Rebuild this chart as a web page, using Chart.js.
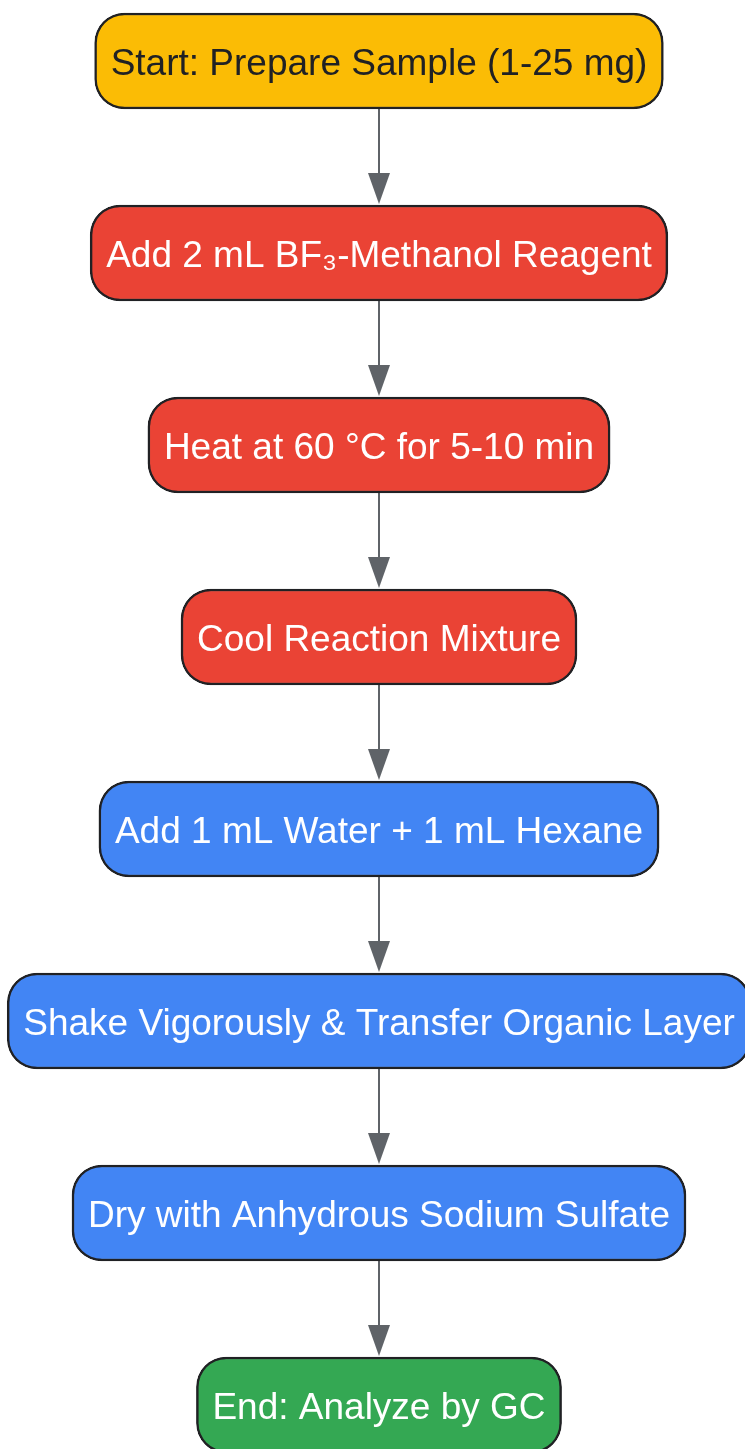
<!DOCTYPE html>
<html>
<head>
<meta charset="utf-8">
<title>FAME derivatization workflow</title>
<script src="https://cdn.jsdelivr.net/npm/chart.js@4.4.1/dist/chart.umd.min.js"></script>
<style>
    html, body { margin: 0; padding: 0; background: #ffffff; overflow: hidden; }
    #wrap { width: 745px; height: 1449px; }
</style>
</head>
<body>
<div id="wrap"><canvas id="flowChart" width="745" height="1449"></canvas></div>
<script>
// Flow steps, top to bottom
const steps = [
    'Start: Prepare Sample (1-25 mg)',
    'Add 2 mL BF\u2083-Methanol Reagent',
    'Heat at 60 \u00B0C for 5-10 min',
    'Cool Reaction Mixture',
    'Add 1 mL Water + 1 mL Hexane',
    'Shake Vigorously & Transfer Organic Layer',
    'Dry with Anhydrous Sodium Sulfate',
    'End: Analyze by GC'
];

// Stage each step belongs to (drives the fill colour)
const stages = ['start', 'reaction', 'reaction', 'reaction', 'extraction', 'extraction', 'extraction', 'end'];

// Edges as [from, to] step indices
const edges = [[0, 1], [1, 2], [2, 3], [3, 4], [4, 5], [5, 6], [6, 7]];

(function() {
    'use strict';

    const COLORS = {
        start: '#FBBC05',
        reaction: '#EA4335',
        extraction: '#4285F4',
        end: '#34A853',
        border: '#202124',
        arrow: '#5F6368',
        darkText: '#202124',
        lightText: '#FFFFFF'
    };

    const FONT = '37px "Liberation Sans", Arial, sans-serif';
    const WIDTH = 745;
    const HEIGHT = 1449;
    const CX = 379;          // centre line of the flow
    const FIRST_Y = 61;      // centre of the first node
    const ROW = 192;         // vertical distance between nodes
    const NODE_H = 96;
    const PAD_X = 16;

    // measure labels so boxes fit their text
    const measureCtx = document.createElement('canvas').getContext('2d');
    measureCtx.font = FONT;
    const boxes = steps.map((label, i) => {
        const w = measureCtx.measureText(label).width + PAD_X * 2;
        return { x: [CX - w / 2, CX + w / 2], y: i };
    });

    const fills = stages.map(s => COLORS[s]);
    const textColors = stages.map(s => s === 'start' ? COLORS.darkText : COLORS.lightText);

    // arrows between consecutive nodes
    const arrowPlugin = {
        id: 'arrows',
        beforeDatasetsDraw(chart) {
            const ctx = chart.ctx;
            const yScale = chart.scales.y;
            const xScale = chart.scales.x;
            const x = Math.round(xScale.getPixelForValue(CX));
            ctx.save();
            ctx.strokeStyle = COLORS.arrow;
            ctx.fillStyle = COLORS.arrow;
            ctx.lineWidth = 2;
            edges.forEach(([a, b]) => {
                const y0 = yScale.getPixelForValue(a) + NODE_H / 2;
                const y1 = yScale.getPixelForValue(b) - NODE_H / 2 - 1;
                ctx.beginPath();
                ctx.moveTo(x, y0);
                ctx.lineTo(x, y1 - 28);
                ctx.stroke();
                ctx.beginPath();
                ctx.moveTo(x - 11, y1 - 31);
                ctx.lineTo(x + 11, y1 - 31);
                ctx.lineTo(x, y1);
                ctx.closePath();
                ctx.fill();
            });
            ctx.restore();
        }
    };

    // labels inside the boxes
    const labelPlugin = {
        id: 'nodeLabels',
        afterDatasetsDraw(chart) {
            const ctx = chart.ctx;
            const meta = chart.getDatasetMeta(0);
            ctx.save();
            ctx.font = FONT;
            ctx.textAlign = 'center';
            ctx.textBaseline = 'alphabetic';
            meta.data.forEach((bar, i) => {
                const p = bar.getProps(['x', 'base', 'y'], true);
                ctx.fillStyle = textColors[i];
                ctx.fillText(steps[i], (p.x + p.base) / 2, p.y + 14);
            });
            ctx.restore();
        }
    };

    new Chart(document.getElementById('flowChart'), {
        type: 'bar',
        data: {
            labels: steps,
            datasets: [{
                data: boxes,
                backgroundColor: fills,
                borderColor: COLORS.border,
                borderWidth: 2.5,
                borderSkipped: false,
                borderRadius: 30,
                barThickness: NODE_H
            }]
        },
        options: {
            indexAxis: 'y',
            responsive: false,
            animation: false,
            events: [],
            layout: { padding: 0 },
            plugins: {
                legend: { display: false },
                tooltip: { enabled: false }
            },
            scales: {
                x: {
                    type: 'linear',
                    display: false,
                    min: 0,
                    max: WIDTH
                },
                y: {
                    type: 'linear',
                    display: false,
                    reverse: true,
                    offset: false,
                    min: -FIRST_Y / ROW,
                    max: (HEIGHT - FIRST_Y) / ROW
                }
            }
        },
        plugins: [arrowPlugin, labelPlugin]
    });
})();
</script>
</body>
</html>
